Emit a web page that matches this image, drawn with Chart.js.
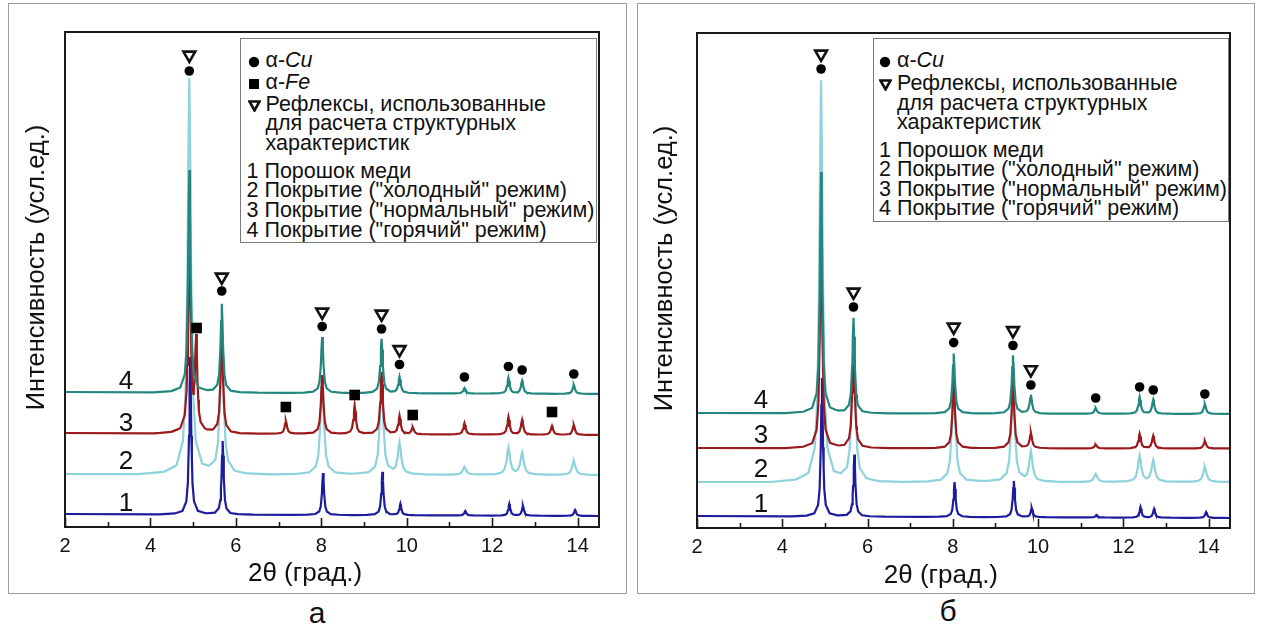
<!DOCTYPE html>
<html><head><meta charset="utf-8">
<script src="https://cdn.jsdelivr.net/npm/chart.js@4"></script>
<style>
html,body{margin:0;padding:0;background:#fff}
body{width:1262px;height:631px;overflow:hidden;position:relative;font-family:"Liberation Sans",Arial,sans-serif;color:#111}
.frame{position:absolute;border:1.5px solid #9c9c9c;box-sizing:border-box}
.wrap{position:absolute}
.leg{position:absolute;border:1.5px solid #7a7a7a;background:#fff;box-sizing:border-box}
.ln{position:absolute;white-space:nowrap;font-size:21.5px;line-height:20px}
.sym{position:absolute}
.cap{position:absolute;font-size:30px;line-height:32px;transform:translate(-50%,-50%)}
</style></head><body>
<div class="frame" style="left:8px;top:3px;width:619px;height:591px"></div>
<div class="frame" style="left:637px;top:3px;width:618px;height:591px"></div>
<div class="wrap" style="left:9px;top:4px;width:616px;height:588px"><canvas id="ca"></canvas></div>
<div class="wrap" style="left:638px;top:4px;width:615px;height:588px"><canvas id="cb"></canvas></div>
<div id="legA" class="leg" style="left:240px;top:38px;width:357px;height:205px"></div>
<div id="legB" class="leg" style="left:873px;top:38px;width:356px;height:184px"></div>
<div class="cap" style="left:317px;top:613px">а</div>
<div class="cap" style="left:948px;top:611px">б</div>
<script>
// ---------- data ----------
const X_TICKS = [2, 4, 6, 8, 10, 12, 14];
const X_MINOR = [3, 5, 7, 9, 11, 13];
const CURVE_NAMES = ['1', '2', '3', '4'];
const X_TITLE = '2θ (град.)';
const Y_TITLE = 'Интенсивность (усл.ед.)';

// peak profile (offset from peak centre in degrees, fraction of peak height)
const PROFILE_DX = [0, 0.015, 0.03, 0.06, 0.1, 0.2, 0.4, 0.8];
const PROFILE_F  = [1, 0.8, 0.5, 0.2, 0.083, 0.022, 0.006, 0];

// panel а  (intensity in arbitrary units; baseline at 2° and 14.5°)
const A1_BASE = [13, 11];
const A1_X    = [4.93, 5.69, 8.04, 9.43, 9.85, 11.37, 12.40, 12.72, 13.94];
const A1_TOP  = [170, 86, 54, 55, 23, 16, 23, 21, 17];
const A2_BASE = [53, 52];
const A2_X    = [4.91, 5.67, 8.02, 9.41, 9.83, 11.35, 12.38, 12.70, 13.91];
const A2_TOP  = [448, 200, 150, 150, 83, 60, 79, 74, 66];
const A3_BASE = [94, 92];
const A3_X    = [4.91, 5.07, 5.67, 7.17, 8.02, 8.78, 9.41, 9.83, 10.14, 11.35, 12.38, 12.70, 13.40, 13.91];
const A3_TOP  = [300, 182, 197, 106, 152, 121, 155, 111, 99.5, 104, 110, 107, 101, 102];
const A4_BASE = [135, 133];
const A4_X    = [4.91, 5.67, 8.02, 9.41, 9.83, 11.35, 12.38, 12.70, 13.91];
const A4_TOP  = [357, 223, 190, 188, 150, 139, 149, 146, 142];
const A_TRI_X  = [4.91, 5.67, 8.02, 9.41, 9.83];
const A_TRI_Y  = [472, 250, 215, 213, 177.5];
const A_CIR_X  = [4.91, 5.67, 8.02, 9.41, 9.83, 11.35, 12.38, 12.70, 13.91];
const A_CIR_Y  = [456, 236, 200.5, 198, 162.5, 150, 160.5, 157, 153];
const A_SQ_X   = [5.08, 7.17, 8.78, 10.14, 13.40];
const A_SQ_Y   = [199, 120, 132, 112, 115];
const A_LABEL_Y = [23, 65, 103.5, 145];

// panel б
const B1_BASE = [12, 10];
const B1_X    = [4.93, 5.69, 8.04, 9.43, 9.85, 11.37, 12.40, 12.72, 13.94];
const B1_TOP  = [150, 73.5, 46, 47, 20, 13, 21, 19, 16];
const B2_BASE = [46, 46];
const B2_X    = [4.91, 5.67, 8.02, 9.41, 9.83, 11.35, 12.38, 12.70, 13.91];
const B2_TOP  = [447, 200, 150, 150, 75.5, 54, 72, 67.5, 61];
const B3_BASE = [80, 79.5];
const B3_X    = [4.91, 5.67, 8.02, 9.41, 9.83, 11.35, 12.38, 12.70, 13.91];
const B3_TOP  = [300, 190, 150, 150, 95, 83.5, 94, 92, 87];
const B4_BASE = [115, 114];
const B4_X    = [4.91, 5.67, 8.02, 9.41, 9.83, 11.35, 12.38, 12.70, 13.91];
const B4_TOP  = [356, 210, 174.5, 172.5, 133, 120, 131, 128, 124];
const B_TRI_X  = [4.91, 5.67, 8.02, 9.41, 9.83];
const B_TRI_Y  = [474, 236, 201, 197.5, 158.3];
const B_CIR_X  = [4.91, 5.67, 8.02, 9.41, 9.83, 11.35, 12.38, 12.70, 13.91];
const B_CIR_Y  = [459, 221, 185.4, 182.5, 143, 130, 141, 138, 134];
const B_LABEL_Y = [23, 58, 92.5, 127];

const LEGEND_A = ['α-<i>Cu</i>', 'α-<i>Fe</i>', 'Рефлексы, использованные', 'для расчета структурных', 'характеристик',
  '1 Порошок меди', '2 Покрытие ("холодный" режим)', '3 Покрытие ("нормальный" режим)', '4 Покрытие ("горячий" режим)'];
const LEGEND_B = ['α-<i>Cu</i>', 'Рефлексы, использованные', 'для расчета структурных', 'характеристик',
  '1 Порошок меди', '2 Покрытие ("холодный" режим)', '3 Покрытие ("нормальный" режим)', '4 Покрытие ("горячий" режим)'];

// ---------- styles ----------
const CURVE_COLORS = ['#1c1c9c', '#8ed2db', '#9c1a1c', '#23877f'];
const CURVE_WIDTH  = [0.9, 1.5, 1.05, 1.05];
const CURVE_ORDER  = [3, 4, 2, 1];
const FONT = '"Liberation Sans", Arial, sans-serif';

function profile(d) {
  d = Math.abs(d);
  for (let i = 1; i < PROFILE_DX.length; i++) {
    if (d <= PROFILE_DX[i]) {
      const t = (d - PROFILE_DX[i - 1]) / (PROFILE_DX[i] - PROFILE_DX[i - 1]);
      return PROFILE_F[i - 1] + t * (PROFILE_F[i] - PROFILE_F[i - 1]);
    }
  }
  return 0;
}
function buildCurve(base, px, tops, w) {
  const bx = x => base[0] + (base[1] - base[0]) * (x - 2) / 12.5;
  const xs = new Set([2, 14.5]);
  px.forEach(c => PROFILE_DX.forEach(d => { xs.add(+(c - d * w).toFixed(4)); xs.add(+(c + d * w).toFixed(4)); }));
  const hs = px.map((c, i) => tops[i] - bx(c));
  return [...xs].filter(x => x >= 2 && x <= 14.5).sort((a, b) => a - b)
    .map(x => ({x, y: bx(x) + px.reduce((s, c, i) => s + hs[i] * profile((x - c) / w), 0)}));
}
const pts = (xs, ys) => xs.map((x, i) => ({x, y: ys[i]}));

const deco = {
  id: 'deco',
  afterDraw(chart, args, o) {
    const {ctx, chartArea: a, scales: {x, y}} = chart;
    ctx.save();
    ctx.strokeStyle = '#1a1a1a';
    ctx.lineWidth = 1.6;
    X_TICKS.forEach(v => { const p = Math.round(x.getPixelForValue(v)) + 0.5; ctx.beginPath(); ctx.moveTo(p, a.bottom); ctx.lineTo(p, a.bottom - 9); ctx.stroke(); });
    X_MINOR.forEach(v => { const p = Math.round(x.getPixelForValue(v)) + 0.5; ctx.beginPath(); ctx.moveTo(p, a.bottom); ctx.lineTo(p, a.bottom - 5); ctx.stroke(); });
    ctx.lineWidth = 2;
    ctx.strokeRect(a.left, a.top, a.right - a.left, a.bottom - a.top);
    ctx.fillStyle = '#111';
    ctx.textAlign = 'center'; ctx.textBaseline = 'middle';
    ctx.font = '26px ' + FONT;
    ctx.fillText(X_TITLE, x.getPixelForValue(o.titleX), o.titleY);
    ctx.font = '25.5px ' + FONT;
    ctx.save();
    ctx.translate(o.yTitleX, (a.top + a.bottom) / 2 - 12);
    ctx.rotate(-Math.PI / 2);
    ctx.fillText(Y_TITLE, 0, 0);
    ctx.restore();
    ctx.font = '26px ' + FONT;
    o.labelY.forEach((v, i) => ctx.fillText(CURVE_NAMES[i], x.getPixelForValue(o.labelX), y.getPixelForValue(v)));
    ctx.restore();
  }
};

function makeChart(id, curves, tri, cir, sq, pad, axisH, decoOpts) {
  const ds = curves.map((c, i) => ({
    label: CURVE_NAMES[i], data: buildCurve(c[0], c[1], c[2], CURVE_WIDTH[i]),
    borderColor: CURVE_COLORS[i], borderWidth: 2.2, pointRadius: 0, tension: 0, order: CURVE_ORDER[i]
  }));
  ds.push({label: 'tri', data: tri, showLine: false, pointStyle: 'triangle', pointRotation: 180, pointRadius: 6.8,
    pointBorderWidth: 2.6, pointBorderColor: '#111', pointBackgroundColor: '#fff', order: 0});
  ds.push({label: 'cu', data: cir, showLine: false, pointStyle: 'circle', pointRadius: 4.8,
    pointBorderWidth: 0, pointBackgroundColor: '#000', order: 0});
  if (sq) ds.push({label: 'fe', data: sq, showLine: false, pointStyle: 'rect', pointRadius: 7.5,
    pointBorderWidth: 0, pointBackgroundColor: '#000', order: 0});
  new Chart(document.getElementById(id), {
    type: 'line',
    data: {datasets: ds},
    options: {
      responsive: true, maintainAspectRatio: false, animation: false,
      layout: {padding: pad},
      plugins: {legend: {display: false}, tooltip: {enabled: false}, deco: decoOpts},
      scales: {
        x: {type: 'linear', min: 2, max: 14.5, position: 'bottom',
          afterBuildTicks: s => { s.ticks = X_TICKS.map(v => ({value: v})); },
          afterFit: s => { s.height = axisH; },
          grid: {display: false, drawTicks: false}, border: {display: false},
          ticks: {font: {size: 20, family: FONT}, color: '#111', padding: 7, maxRotation: 0, autoSkip: false}},
        y: {type: 'linear', display: false, min: 0, max: 495}
      }
    },
    plugins: [deco]
  });
}

makeChart('ca',
  [[A1_BASE, A1_X, A1_TOP], [A2_BASE, A2_X, A2_TOP], [A3_BASE, A3_X, A3_TOP], [A4_BASE, A4_X, A4_TOP]],
  pts(A_TRI_X, A_TRI_Y), pts(A_CIR_X, A_CIR_Y), pts(A_SQ_X, A_SQ_Y),
  {left: 56, top: 28, right: 26, bottom: 0}, 65,
  {titleX: 7.62, titleY: 570, yTitleX: 28, labelX: 3.43, labelY: A_LABEL_Y});
makeChart('cb',
  [[B1_BASE, B1_X, B1_TOP], [B2_BASE, B2_X, B2_TOP], [B3_BASE, B3_X, B3_TOP], [B4_BASE, B4_X, B4_TOP]],
  pts(B_TRI_X, B_TRI_Y), pts(B_CIR_X, B_CIR_Y), null,
  {left: 59, top: 29, right: 23, bottom: 0}, 64,
  {titleX: 7.72, titleY: 572, yTitleX: 27, labelX: 3.5, labelY: B_LABEL_Y});

// ---------- legends ----------
const SYM = {
  c: '<svg width="12" height="12"><circle cx="6" cy="6" r="5.2" fill="#000"/></svg>',
  s: '<svg width="12" height="12"><rect x="1" y="1" width="10" height="10" fill="#000"/></svg>',
  t: '<svg width="13" height="12"><polygon points="1.5,1.5 11.5,1.5 6.5,10.5" fill="#fff" stroke="#111" stroke-width="2.6" stroke-linejoin="miter"/></svg>'
};
function legend(id, boxL, boxT, lines, ys, kinds, symX, textX, numX) {
  const box = document.getElementById(id);
  lines.forEach((t, i) => {
    const k = kinds[i];
    const d = document.createElement('div');
    d.className = 'ln';
    d.innerHTML = t;
    d.style.top = (ys[i] - 10 - boxT) + 'px';
    d.style.left = ((k === 'n' ? numX : textX) - boxL) + 'px';
    box.appendChild(d);
    if (SYM[k]) {
      const s = document.createElement('div');
      s.className = 'sym';
      s.innerHTML = SYM[k];
      s.style.left = (symX - 6 - boxL) + 'px';
      s.style.top = (ys[i] - 6 - boxT) + 'px';
      box.appendChild(s);
    }
  });
}
legend('legA', 240, 38, LEGEND_A, [58.6, 81, 103, 122, 142, 170, 189, 209, 229],
  ['c', 's', 't', '', '', 'n', 'n', 'n', 'n'], 252.5, 264.5, 245.5);
legend('legB', 873, 38, LEGEND_B, [58.6, 82, 102, 121, 149, 168, 188, 207],
  ['c', 't', '', '', 'n', 'n', 'n', 'n'], 884, 896, 878);
</script>
</body></html>
